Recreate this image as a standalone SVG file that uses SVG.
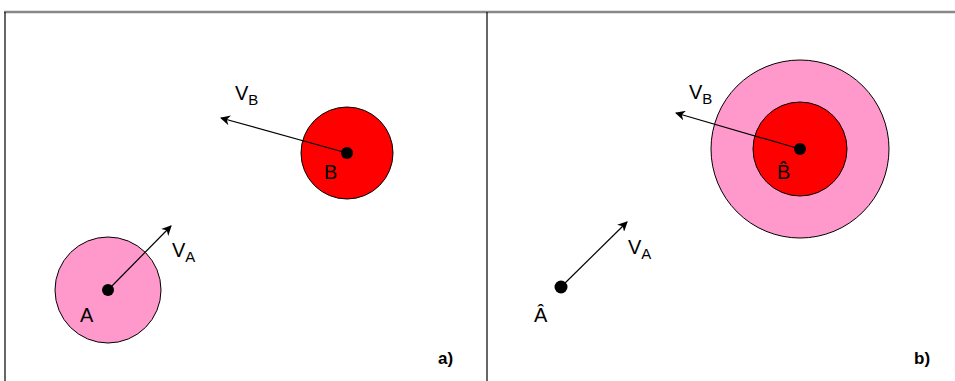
<svg xmlns="http://www.w3.org/2000/svg" width="955" height="381" viewBox="0 0 955 381">
<style>
text{font-family:"Liberation Sans",Arial,sans-serif;fill:#000}
.lbl{font-size:20px}
.sub{font-size:15px}
.pink{fill:#FF99CC;stroke:#000;stroke-width:1}
.red{fill:#FF0000;stroke:#000;stroke-width:1}
.dot{fill:#000}
.vec{stroke:#000;stroke-width:1.2;fill:none;marker-end:url(#ah)}
.cap{font-size:17px;font-weight:bold}
</style>
<defs>
<marker id="ah" viewBox="0 0 10 10" refX="9" refY="5" markerWidth="10" markerHeight="10" markerUnits="userSpaceOnUse" orient="auto">
<path d="M0,0 L10,5 L0,10 L3,5 Z" fill="#000"/>
</marker>
</defs>
<rect width="955" height="381" fill="#fff"/>
<g id="frame">
<line x1="4" y1="12" x2="955" y2="12" stroke="#888" stroke-width="2.5"/>
<line x1="5" y1="12" x2="5" y2="381" stroke="#000" stroke-width="1.2"/>
<line x1="487" y1="12" x2="487" y2="381" stroke="#000" stroke-width="1.2"/>
</g>
<g id="nodeA">
<circle class="pink" cx="108" cy="290" r="53"/>
<circle class="dot" cx="108" cy="290" r="6"/>
<text class="lbl" x="80" y="322">A</text>
</g>
<g id="nodeB">
<circle class="red" cx="347" cy="153" r="46"/>
<circle class="dot" cx="347" cy="153" r="6"/>
<text class="lbl" x="324" y="179">B</text>
</g>
<g id="nodeBhat">
<circle class="pink" cx="800" cy="149" r="89"/>
<circle class="red" cx="800" cy="149" r="47"/>
<circle class="dot" cx="800" cy="149" r="6"/>
<text class="lbl" x="777" y="179">B̂</text>
</g>
<g id="nodeAhat">
<circle class="dot" cx="561" cy="287" r="6.5"/>
<text class="lbl" x="534" y="322">Â</text>
</g>
<g id="connectors">
<line class="vec" x1="108" y1="290" x2="171" y2="226"/>
<line class="vec" x1="347" y1="153" x2="221" y2="118"/>
<line class="vec" x1="800" y1="149" x2="676" y2="113"/>
<line class="vec" x1="561" y1="287" x2="627" y2="222" stroke="#444"/>
</g>
<g id="labels">
<text class="lbl" x="172" y="257">V<tspan class="sub" dy="5">A</tspan></text>
<text class="lbl" x="235" y="100">V<tspan class="sub" dy="5">B</tspan></text>
<text class="lbl" x="689" y="99">V<tspan class="sub" dy="5">B</tspan></text>
<text class="lbl" x="628" y="254">V<tspan class="sub" dy="5">A</tspan></text>
<text class="cap" x="438" y="364">a)</text>
<text class="cap" x="914" y="364">b)</text>
</g>
</svg>
